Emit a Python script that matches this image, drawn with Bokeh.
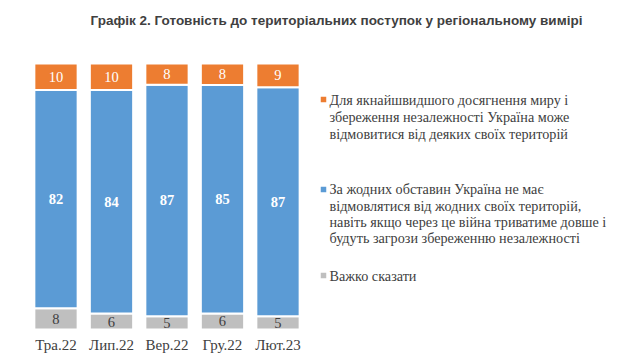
from bokeh.plotting import figure
from bokeh.models import ColumnDataSource, Range1d, FixedTicker
from bokeh.embed import file_html
from bokeh.resources import INLINE
from bokeh.core.properties import value

categories = ["Тра.22", "Лип.22", "Вер.22", "Гру.22", "Лют.23"]
can_give_up = [10, 10, 8, 8, 9]
never_give_up = [82, 84, 87, 85, 87]
hard_to_say = [8, 6, 5, 6, 5]

legend_texts = [
    ["Для якнайшвидшого досягнення миру і",
     "збереження незалежності Україна може",
     "відмовитися від деяких своїх територій"],
    ["За жодних обставин Україна не має",
     "відмовлятися від жодних своїх територій,",
     "навіть якщо через це війна триватиме довше і",
     "будуть загрози збереженню незалежності"],
    ["Важко сказати"],
]
title_text = "Графік 2. Готовність до територіальних поступок у регіональному вимірі"

ORANGE = "#ED7D31"
BLUE = "#5B9BD5"
GRAY = "#BFBFBF"
TXT = "#404040"

xs = list(range(len(categories)))
totals = [a + b + c for a, b, c in zip(can_give_up, never_give_up, hard_to_say)]
gray_s = [c / t * 100 for c, t in zip(hard_to_say, totals)]
blue_s = [b / t * 100 for b, t in zip(never_give_up, totals)]
orange_s = [a / t * 100 for a, t in zip(can_give_up, totals)]

src = ColumnDataSource(dict(x=xs, gray=gray_s, blue=blue_s, orange=orange_s))

p = figure(x_range=Range1d(-1.0, 10.532), y_range=Range1d(-0.376, 123.68),
           frame_width=640, frame_height=330, output_backend="svg", toolbar_location=None,
           min_border_left=0, min_border_right=0, min_border_top=0, min_border_bottom=0)

p.vbar_stack(["gray", "blue", "orange"], x="x", width=0.78, source=src,
             color=[GRAY, BLUE, ORANGE], line_color="white", line_width=2)

# value labels
g_mid = [g / 2 for g in gray_s]
b_mid = [g + b / 2 for g, b in zip(gray_s, blue_s)]
o_mid = [g + b + o / 2 for g, b, o in zip(gray_s, blue_s, orange_s)]
lab = ColumnDataSource(dict(x=xs, gm=g_mid, bm=b_mid, om=o_mid,
                            gt=[str(v) for v in hard_to_say],
                            bt=[str(v) for v in never_give_up],
                            ot=[str(v) for v in can_give_up]))
common = dict(x="x", source=lab, text_align="center", text_baseline="middle",
              text_font=value("Liberation Serif"), text_font_size="14.5px")
p.text(y="gm", text="gt", text_color=TXT, **common)
p.text(y="bm", text="bt", text_color="white", text_font_style="bold", **common)
p.text(y="om", text="ot", text_color="white", **common)

# axes styling
p.yaxis.visible = False
p.xgrid.grid_line_color = None
p.ygrid.grid_line_color = None
p.outline_line_color = None
p.xaxis.ticker = FixedTicker(ticks=xs)
p.xaxis.major_label_overrides = {i: c for i, c in zip(xs, categories)}
p.xaxis.axis_line_color = None
p.xaxis.major_tick_line_color = None
p.xaxis.minor_tick_line_color = None
p.xaxis.major_tick_out = 0
p.xaxis.major_tick_in = 0
p.xaxis.major_label_standoff = 6
p.xaxis.major_label_text_font = "Liberation Serif"
p.xaxis.major_label_text_font_size = "15px"
p.xaxis.major_label_text_color = TXT

# title
p.text(x=[5.054], y=[116.2], text=[title_text], text_align="center",
       text_baseline="middle", text_font=value("Liberation Sans"),
       text_font_style="bold", text_font_size="13.5px", text_color=TXT)

# legend
legend_colors = [ORANGE, BLUE, GRAY]
legend_y = [[86.46, 80.07, 73.68], [52.63, 46.61, 40.60, 34.21], [20.30]]
mk_y = [ys[0] for ys in legend_y]
p.scatter(x=[4.820] * len(mk_y), y=mk_y, marker="square", size=5.5,
          color=legend_colors, line_color=None)
line_txt = [t for lines in legend_texts for t in lines]
line_y = [y for ys in legend_y for y in ys]
p.text(x=[4.928] * len(line_txt), y=line_y, text=line_txt, text_align="left",
       text_baseline="middle", text_font=value("Liberation Serif"),
       text_font_size="14.2px", text_color=TXT)

open("out.html", "w").write(file_html(p, INLINE))
